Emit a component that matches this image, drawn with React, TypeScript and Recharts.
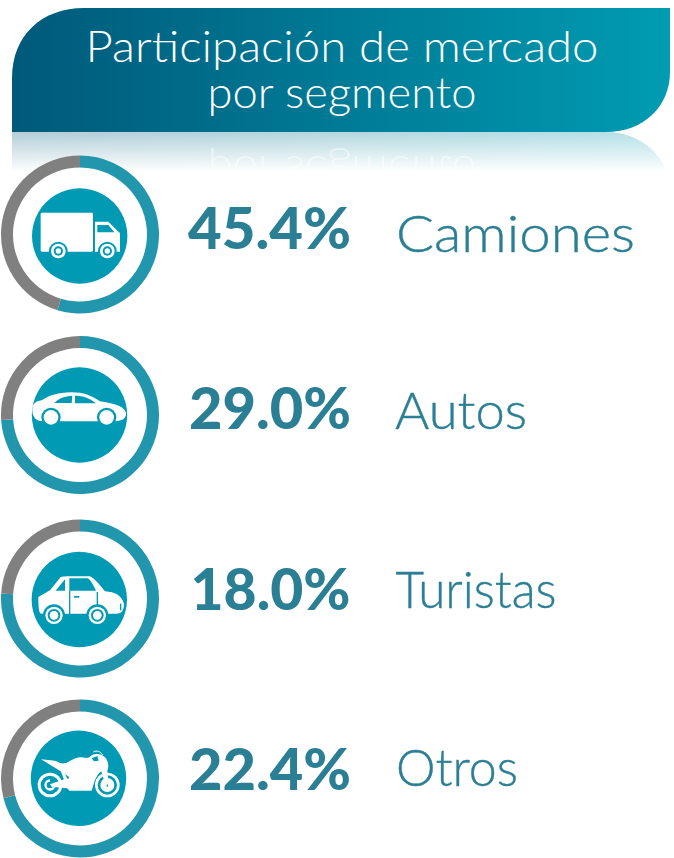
import React from "react";
import { PieChart, Pie, Cell } from "recharts";

const segments = ["Camiones", "Autos", "Turistas", "Otros"];
const shareLabels = [45.4, 29.0, 18.0, 22.4];
// grey arc as drawn in the picture (does not always follow the printed number)
const greyArc = [45.4, 26, 24, 29];
const disc = [1];

const ringCenters = [234.5, 415, 598.5, 778.5];
const discCenters = [
  { x: 79.7, y: 236 },
  { x: 79.5, y: 415 },
  { x: 79.3, y: 599.5 },
  { x: 78.5, y: 778.3 },
];
const pctX = [188, 189, 190.5, 189];
const pctY = [249, 429, 610, 790];
const pctLen = [163, 162, 160, 162];
const labelX = [396, 395, 395.5, 396];
const labelY = [252, 429, 608, 786];
const labelLen = [239, 132, 161, 122];

const TEAL = "#2296ac";
const GREY = "#808080";
const DISC = "#009ab5";
const INK = "#2b7f95";
const FONT_LIGHT = "Lato, 'Open Sans', sans-serif";

const HEADER =
  "M12,132 V78 C12,35 42,8 84,8 H670 V72 C670,106 644,132 606,132 Z";
const MIRROR =
  "M12,132 H606 C640,132 670,156 670,192 H12 Z";

const Backdrop = () => (
  <svg width={674} height={858} style={{ position: "absolute", left: 0, top: 0 }}>
    <defs>
      <linearGradient id="head" x1="0" x2="1" y1="0" y2="0">
        <stop offset="0" stopColor="#00597a" />
        <stop offset="1" stopColor="#009cb2" />
      </linearGradient>
      <linearGradient id="fade" x1="0" x2="0" y1="132" y2="172" gradientUnits="userSpaceOnUse">
        <stop offset="0" stopColor="#fff" stopOpacity={0.3} />
        <stop offset="1" stopColor="#fff" stopOpacity={0} />
      </linearGradient>
      <mask id="fadeMask" maskUnits="userSpaceOnUse" x="0" y="132" width="674" height="60">
        <rect x={0} y={132} width={674} height={60} fill="url(#fade)" />
      </mask>
    </defs>
    <path d={MIRROR} fill="url(#head)" mask="url(#fadeMask)" />
    <path d={HEADER} fill="url(#head)" />
    <text
      x={342}
      y={-155.5}
      transform="scale(1,-1)"
      textAnchor="middle"
      fontFamily={FONT_LIGHT}
      fontWeight={300}
      fontSize={43}
      textLength={269}
      lengthAdjust="spacingAndGlyphs"
      fill="#fff"
      fillOpacity={0.5}
    >
      por segmento
    </text>
    <text
      x={342}
      y={62}
      textAnchor="middle"
      fontFamily={FONT_LIGHT}
      fontWeight={300}
      fontSize={43}
      textLength={513}
      lengthAdjust="spacingAndGlyphs"
      fill="#fff"
    >
      Participación de mercado
    </text>
    <text
      x={342}
      y={108}
      textAnchor="middle"
      fontFamily={FONT_LIGHT}
      fontWeight={300}
      fontSize={43}
      textLength={269}
      lengthAdjust="spacingAndGlyphs"
      fill="#fff"
    >
      por segmento
    </text>
  </svg>
);

const Wheel = ({ x, y, r1, r2, r3, r4 }: any) => (
  <g>
    <circle cx={x} cy={y} r={r1} fill={DISC} />
    <circle cx={x} cy={y} r={r2} fill="#fff" />
    <circle cx={x} cy={y} r={r3} fill={DISC} />
    {r4 ? <circle cx={x} cy={y} r={r4} fill="#fff" /> : null}
  </g>
);

// icons are traced in 3x crop coordinates, then scaled down
const Truck = () => (
  <g transform="translate(0,150) scale(0.3333)" fill="#fff">
    <rect x={122} y={188} width={157} height={117} rx={4} />
    <path d="M285,215 H325 L360,250 V305 H285 Z" />
    <path d="M292,225 H325 L343,247 H292 Z" fill={DISC} />
    <Wheel x={175} y={303} r1={28} r2={22} r3={14} r4={8} />
    <Wheel x={322} y={303} r1={28} r2={22} r3={14} r4={8} />
  </g>
);

const Sedan = () => (
  <g transform="translate(0,330) scale(0.3333)" fill="#fff">
    <path d="M97,240 C97,222 105,214 125,211 C145,198 170,187 215,187 C250,187 275,197 300,214 C335,220 368,226 377,245 C382,260 372,272 345,274 H128 C108,274 97,260 97,240 Z" />
    <path d="M163,219 C175,205 195,198 217,197 L215,219 Z" fill={DISC} />
    <path d="M225,197 C250,197 270,205 288,220 H225 Z" fill={DISC} />
    <circle cx={153} cy={262} r={29} fill={DISC} />
    <circle cx={153} cy={262} r={22} />
    <circle cx={320} cy={262} r={29} fill={DISC} />
    <circle cx={320} cy={262} r={22} />
  </g>
);

const Compact = () => (
  <g transform="translate(0,512) scale(0.3333)" fill="#fff">
    <path d="M115,255 L150,235 L178,200 C180,195 190,193 205,193 H265 C275,193 285,200 315,238 C345,240 365,250 372,275 C372,295 365,305 350,305 H125 C118,305 115,295 115,255 Z" />
    <path d="M167,236 L195,202 V236 Z" fill={DISC} />
    <path d="M208,199 H262 C268,199 278,215 288,236 H208 Z" fill={DISC} />
    <rect x={207} y={236} width={4} height={74} fill={DISC} />
    <rect x={290} y={240} width={4} height={40} fill={DISC} />
    <rect x={222} y={252} width={16} height={5} fill={DISC} />
    <rect x={360} y={275} width={4} height={20} fill={DISC} />
    <Wheel x={162} y={310} r1={33} r2={26} r3={19} r4={13} />
    <Wheel x={292} y={310} r1={33} r2={26} r3={19} r4={13} />
  </g>
);

const Bike = () => (
  <g transform="translate(0,690) scale(0.3333)" fill="#fff">
    <circle cx={150} cy={285} r={37} />
    <circle cx={150} cy={285} r={28} fill={DISC} />
    <path d="M150,268 A17,17 0 1,0 167,285 H160 A10,10 0 1,1 150,275 Z" />
    <circle cx={322} cy={285} r={37} />
    <circle cx={322} cy={285} r={29} fill={DISC} />
    <circle cx={322} cy={285} r={21} />
    <rect x={320} y={266} width={4} height={24} fill={DISC} />
    <path d="M150,283 L210,262 L215,296 L155,290 Z" />
    <path d="M123,208 L165,212 C175,215 180,222 195,220 C210,216 225,200 245,202 C258,204 266,206 272,198 C282,188 306,190 318,205 C327,220 326,234 322,242 L326,283 L316,285 L304,244 C295,250 288,262 283,275 L275,302 H208 C195,290 192,262 182,244 L150,224 Z" />
    <path d="M195,252 L208,262 L203,268 Z" fill={DISC} />
    <path d="M275,205 L292,198 L296,212 L282,214 Z" fill={DISC} />
    <path d="M280,186 C290,180 302,184 308,196" fill="none" stroke="#fff" strokeWidth={3} />
  </g>
);

const Overlay = () => (
  <svg width={674} height={858} style={{ position: "absolute", left: 0, top: 0 }}>
    <Truck />
    <Sedan />
    <Compact />
    <Bike />
    {shareLabels.map((v, i) => (
      <text
        key={`pct-${i}`}
        x={pctX[i]}
        y={pctY[i]}
        fontFamily="Lato, sans-serif"
        fontWeight={900}
        fontSize={58}
        textLength={pctLen[i]}
        lengthAdjust="spacingAndGlyphs"
        fill={INK}
      >
        {v.toFixed(1)}%
      </text>
    ))}
    {segments.map((s, i) => (
      <text
        key={s}
        x={labelX[i]}
        y={labelY[i]}
        fontFamily={FONT_LIGHT}
        fontWeight={300}
        fontSize={51}
        textLength={labelLen[i]}
        lengthAdjust="spacingAndGlyphs"
        fill={INK}
        stroke={INK}
        strokeWidth={0.4}
      >
        {s}
      </text>
    ))}
  </svg>
);

export default function App() {
  return (
    <div style={{ position: "absolute", left: 0, top: 0, width: 674, height: 858, background: "#fff", overflow: "hidden" }}>
      <Backdrop />
      <div style={{ position: "absolute", left: 0, top: 0, filter: "blur(0.5px)" }}>
        <PieChart width={674} height={858} margin={{ top: 0, right: 0, bottom: 0, left: 0 }}>
          {segments.map((s, i) => (
            <Pie
              key={`ring-${s}`}
              data={[
                { name: "resto", value: 100 - greyArc[i] },
                { name: s, value: greyArc[i] },
              ]}
              dataKey="value"
              cx={80}
              cy={ringCenters[i]}
              innerRadius={67}
              outerRadius={79}
              startAngle={90}
              endAngle={-270}
              stroke="none"
              isAnimationActive={false}
            >
              <Cell fill={TEAL} />
              <Cell fill={GREY} />
            </Pie>
          ))}
          {segments.map((s, i) => (
            <Pie
              key={`disc-${s}`}
              data={disc.map((value) => ({ name: s, value }))}
              dataKey="value"
              cx={discCenters[i].x}
              cy={discCenters[i].y}
              innerRadius={0}
              outerRadius={47.7}
              stroke="none"
              fill={DISC}
              isAnimationActive={false}
            />
          ))}
        </PieChart>
      </div>
      <Overlay />
    </div>
  );
}
